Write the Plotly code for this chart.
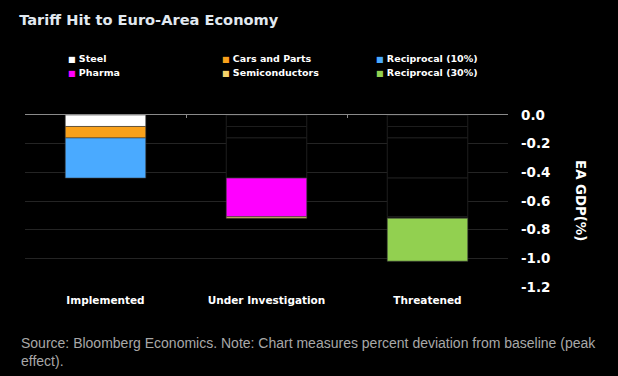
import plotly.graph_objects as go

categories = ["Implemented", "Under Investigation", "Threatened"]
series_names = ["Steel", "Cars and Parts", "Reciprocal (10%)", "Pharma", "Semiconductors", "Reciprocal (30%)"]
series_stage = [0, 0, 0, 1, 1, 2]  # category index where each tariff first appears
series_values = [-0.08, -0.08, -0.28, -0.27, -0.01, -0.30]
series_colors = ["#ffffff", "#f9a11b", "#4aaaff", "#ff00ff", "#f6d36b", "#92d050"]
y_ticks = [0.0, -0.2, -0.4, -0.6, -0.8, -1.0, -1.2]

fig = go.Figure()

for name, stage, val, col in zip(series_names, series_stage, series_values, series_colors):
    # coloured segment in its own category
    fig.add_trace(go.Bar(
        x=[categories[stage]], y=[val], name=name, showlegend=False,
        marker=dict(color=col, line=dict(color="#3a3a3a", width=0.6)),
        width=0.5, hoverinfo="skip",
    ))
    # carried-over (hidden) segment in later categories
    later = categories[stage + 1:]
    if later:
        fig.add_trace(go.Bar(
            x=later, y=[val] * len(later), showlegend=False,
            marker=dict(color="#000000", line=dict(color="#1e1e1e", width=1)),
            width=0.5, hoverinfo="skip",
        ))

# invisible trace so the top axis (zero line with boundary ticks) is drawn
fig.add_trace(go.Scatter(x=categories, y=[None] * len(categories), xaxis="x2",
                         mode="markers", showlegend=False, hoverinfo="skip"))

# legend built as annotations (3 columns x 2 rows)
legend_ann = []
for i, (name, col) in enumerate(zip(series_names, series_colors)):
    c, r = i % 3, i // 3
    legend_ann.append(dict(
        text=f"<span style='color:{col};font-size:8px'>■</span> {name}",
        xref="paper", yref="paper", x=0.084 + c * 0.319, y=1.331 - r * 0.081,
        xanchor="left", yanchor="middle", showarrow=False,
        font=dict(size=9.5, color="#ffffff", family="DejaVu Sans", weight="bold"),
    ))

fig.update_layout(
    width=618, height=376,
    paper_bgcolor="#000000", plot_bgcolor="#000000",
    barmode="relative", bargap=0.5, showlegend=False,
    margin=dict(l=25, r=110, t=115, b=89, autoexpand=False),
    font=dict(family="DejaVu Sans", color="#ffffff"),
    title=dict(text="Tariff Hit to Euro-Area Economy", x=0.031, xref="container",
               xanchor="left", y=0.947, yref="container", yanchor="middle",
               font=dict(size=14.6, color="#e2e9f0", family="DejaVu Sans", weight="bold")),
    xaxis=dict(type="category", categoryarray=categories, categoryorder="array",
               showgrid=False, zeroline=False, showline=False, ticks="",
               ticklabelstandoff=5,
               tickfont=dict(size=10.5, color="#ffffff", family="DejaVu Sans", weight="bold")),
    xaxis2=dict(type="category", categoryarray=categories, categoryorder="array",
                matches="x", overlaying="x", side="top", showline=True,
                linecolor="#8a8a8a", linewidth=1, ticks="inside", ticklen=3,
                tickcolor="#8a8a8a", tickson="boundaries", showticklabels=False,
                showgrid=False, zeroline=False),
    yaxis=dict(side="right", range=[-1.2, 0], tickvals=y_ticks,
               ticktext=[f"{v:.1f}" for v in y_ticks],
               showgrid=True, gridcolor="#242424", gridwidth=1,
               zeroline=False, ticks="", ticklabelstandoff=12,
               tickfont=dict(size=13.5, color="#ffffff", family="DejaVu Sans", weight="bold")),
    annotations=legend_ann + [
        dict(text="EA GDP(%)", textangle=90, xref="paper", yref="paper",
             x=1.151, y=0.5, xanchor="center", yanchor="middle", showarrow=False,
             font=dict(size=13.3, color="#ffffff", family="DejaVu Sans", weight="bold")),
        dict(text="Source: Bloomberg Economics. Note: Chart measures percent deviation from baseline (peak<br>effect).",
             xref="paper", yref="paper", x=-0.012, y=-0.268, xanchor="left", yanchor="top",
             align="left", showarrow=False,
             font=dict(size=14, color="#a8a8a8", family="Liberation Sans")),
    ],
)

fig.write_html("out.html", config={"displayModeBar": False},
               post_script="document.body.style.margin='0';document.body.style.background='#000';")
